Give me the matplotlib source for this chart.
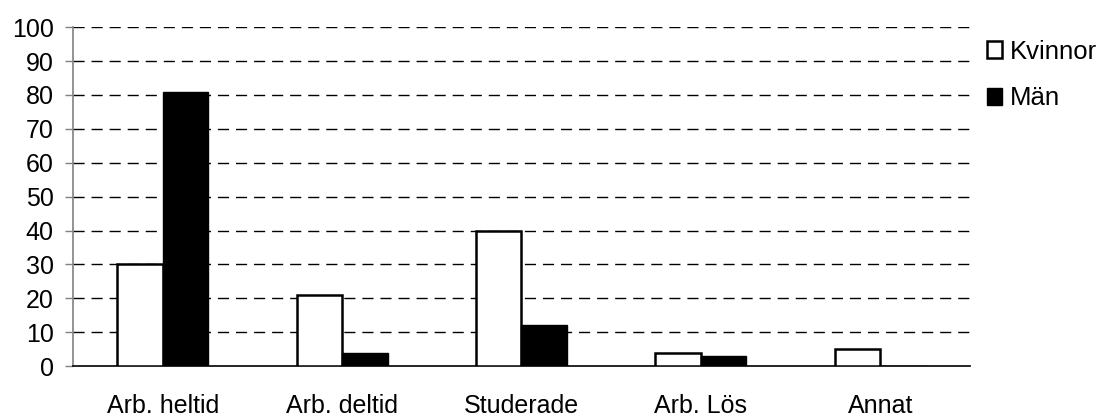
import numpy as np
import matplotlib.pyplot as plt

plt.rcParams["font.family"] = ["Liberation Sans", "DejaVu Sans"]

categories = ["Arb. heltid", "Arb. deltid", "Studerade", "Arb. Lös", "Annat"]
kvinnor = [30, 21, 40, 4, 5]
man = [81, 4, 12, 3, 0]

fig = plt.figure(figsize=(11.06, 4.17), dpi=100)
ax = fig.add_axes([0.066, 0.122, 0.811, 0.813])

x = np.arange(len(categories))
w = 0.254

ax.bar(x - w / 2, kvinnor, width=w, color="white", edgecolor="black",
       linewidth=1.8, label="Kvinnor", zorder=3)
ax.bar(x + w / 2, man, width=w, color="black", edgecolor="black",
       linewidth=1.0, label="Män", zorder=3)

ax.set_xlim(-0.5, len(categories) - 0.5)
ax.set_ylim(0, 100)
ax.set_yticks(range(0, 101, 10))
ax.set_xticks(x)
ax.set_xticklabels(categories, fontsize=18)
ax.tick_params(axis="x", length=0, pad=20)
ax.tick_params(axis="y", labelsize=18, length=6, width=1, color="#808080", pad=8)

for y in range(10, 101, 10):
    ax.axhline(y, color="black", linestyle=(0, (8, 5)), linewidth=1, zorder=1)

for s in ["top", "right"]:
    ax.spines[s].set_visible(False)
ax.spines["left"].set_color("#808080")
ax.spines["left"].set_linewidth(1.2)
ax.spines["bottom"].set_color("black")
ax.spines["bottom"].set_linewidth(1.2)

ax.legend(loc="upper left", bbox_to_anchor=(0.892, 0.905),
          bbox_transform=fig.transFigure, frameon=False, fontsize=18.5,
          handlelength=0.62, handleheight=0.62, handletextpad=0.3,
          labelspacing=0.88, borderpad=0, borderaxespad=0)

fig.savefig("out.png", dpi=100)
